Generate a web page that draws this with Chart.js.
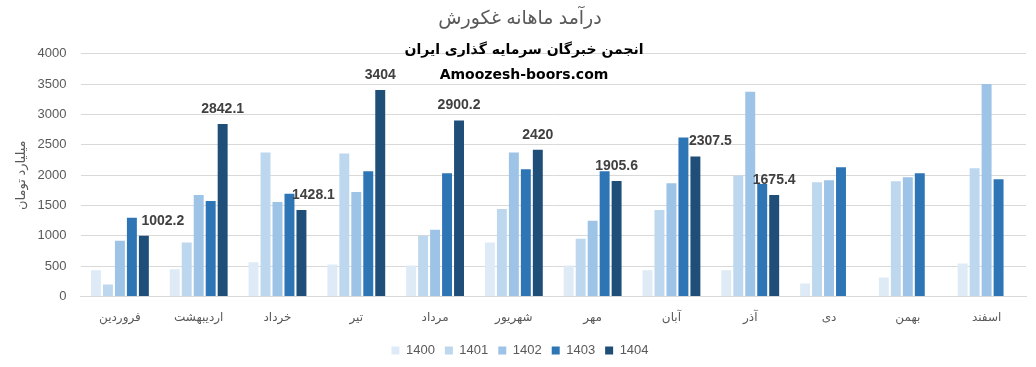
<!DOCTYPE html>
<html>
<head>
<meta charset="utf-8">
<script src="https://cdn.jsdelivr.net/npm/chart.js@4.4.1/dist/chart.umd.min.js"></script>
<style>
  html, body { margin: 0; padding: 0; background: #fff; }
  #wrap { width: 1036px; height: 367px; position: relative; }
</style>
</head>
<body>
<div id="wrap"><canvas id="chart"></canvas></div>
<script>
// months (Persian calendar)
const months = ["فروردین", "اردیبهشت", "خرداد", "تیر", "مرداد", "شهریور", "مهر", "آبان", "آذر", "دی", "بهمن", "اسفند"];
const years = ["1400", "1401", "1402", "1403", "1404"];

// monthly revenue, billion toman
const y1400 = [435, 452, 566, 528, 512, 893, 512, 435, 435, 217, 316, 544];
const y1401 = [201, 893, 2376, 2359, 1002, 1444, 953, 1427, 1994, 1885, 1902, 2114];
const y1402 = [920, 1672, 1558, 1722, 1100, 2376, 1248, 1869, 3373, 1918, 1967, 3504];
const y1403 = [1297, 1574, 1694, 2065, 2032, 2098, 2065, 2621, 1855, 2131, 2032, 1934];
const y1404 = [1002.2, 2842.1, 1428.1, 3404, 2900.2, 2420, 1905.6, 2307.5, 1675.4, null, null, null];

const colors = ["#DEEBF7", "#BDD7EE", "#9DC3E6", "#2E75B6", "#1F4E79"];
const series = [y1400, y1401, y1402, y1403, y1404];

const FONT = "'Liberation Sans', 'DejaVu Sans', Arial, sans-serif";
const GREY = "#595959";

// labels above the 1404 bars; a few are nudged right like in the source
const valueLabels = {
  id: "valueLabels",
  afterDatasetsDraw(chart, args, opts) {
    const ctx = chart.ctx;
    const meta = chart.getDatasetMeta(opts.dataset);
    const data = chart.data.datasets[opts.dataset].data;
    ctx.save();
    ctx.font = "bold 14px " + FONT;
    ctx.fillStyle = "#404040";
    ctx.textAlign = "center";
    ctx.textBaseline = "middle";
    meta.data.forEach((bar, i) => {
      if (data[i] == null) return;
      const dx = opts.shift[i] || 0;
      ctx.fillText(String(data[i]), bar.x + dx, bar.y - 15);
    });
    ctx.restore();
  },
};

// the site watermark over the plot
const watermark = {
  id: "watermark",
  afterDraw(chart) {
    const ctx = chart.ctx;
    ctx.save();
    ctx.fillStyle = "#000";
    ctx.textAlign = "center";
    ctx.textBaseline = "middle";
    ctx.font = "bold 14px 'DejaVu Sans', sans-serif";
    ctx.fillText("انجمن خبرگان سرمایه گذاری ایران", 524, 50);
    ctx.fillText("Amoozesh-boors.com", 524, 75);
    ctx.restore();
  },
};

// legend box a little shorter than chart.js makes it, items kept in place
const legendTrim = {
  id: "legendTrim",
  afterInit(chart) {
    const lg = chart.legend;
    const fit = lg.fit.bind(lg);
    const draw = lg.draw.bind(lg);
    lg.fit = function () { fit(); this.height -= 5; };
    lg.draw = function () {
      const ctx = chart.ctx;
      ctx.save();
      ctx.translate(0, -5);
      draw();
      ctx.restore();
    };
  },
};

new Chart(document.getElementById("chart"), {
  type: "bar",
  data: {
    labels: months,
    datasets: years.map((y, i) => ({
      label: y,
      data: series[i],
      backgroundColor: colors[i],
      borderWidth: 0,
      categoryPercentage: 0.76,
      barPercentage: 0.83,
    })),
  },
  options: {
    responsive: true,
    maintainAspectRatio: false,
    animation: false,
    layout: { padding: { left: 14, right: 10, top: 0, bottom: 0 } },
    plugins: {
      title: {
        display: true,
        text: "درآمد ماهانه غکورش",
        color: GREY,
        font: { family: FONT, size: 19, weight: "normal" },
        padding: { top: 7, bottom: 24 },
      },
      legend: {
        position: "bottom",
        labels: {
          color: GREY,
          font: { family: FONT, size: 13 },
          boxWidth: 8,
          boxHeight: 8,
          padding: 10,
        },
      },
      tooltip: { enabled: false },
      valueLabels: { dataset: 4, shift: [19, 0, 12, 0, 0, 0, 0, 15, 0] },
    },
    scales: {
      x: {
        grid: { display: false, drawTicks: false },
        border: { color: "#D9D9D9" },
        ticks: { color: GREY, font: { family: FONT, size: 12 }, padding: 14, maxRotation: 0 },
      },
      y: {
        min: 0,
        max: 4000,
        grid: { color: "#D9D9D9", drawTicks: false },
        border: { display: false },
        ticks: {
          stepSize: 500,
          color: GREY,
          font: { family: FONT, size: 13 },
          padding: 14,
          callback: (v) => String(v),
        },
        title: {
          display: true,
          text: "میلیارد تومان",
          color: GREY,
          font: { family: FONT, size: 13 },
          padding: { top: 0, bottom: 8 },
        },
        afterFit: (scale) => { scale.width -= 14; },
      },
    },
  },
  plugins: [valueLabels, watermark, legendTrim],
});
</script>
</body>
</html>
